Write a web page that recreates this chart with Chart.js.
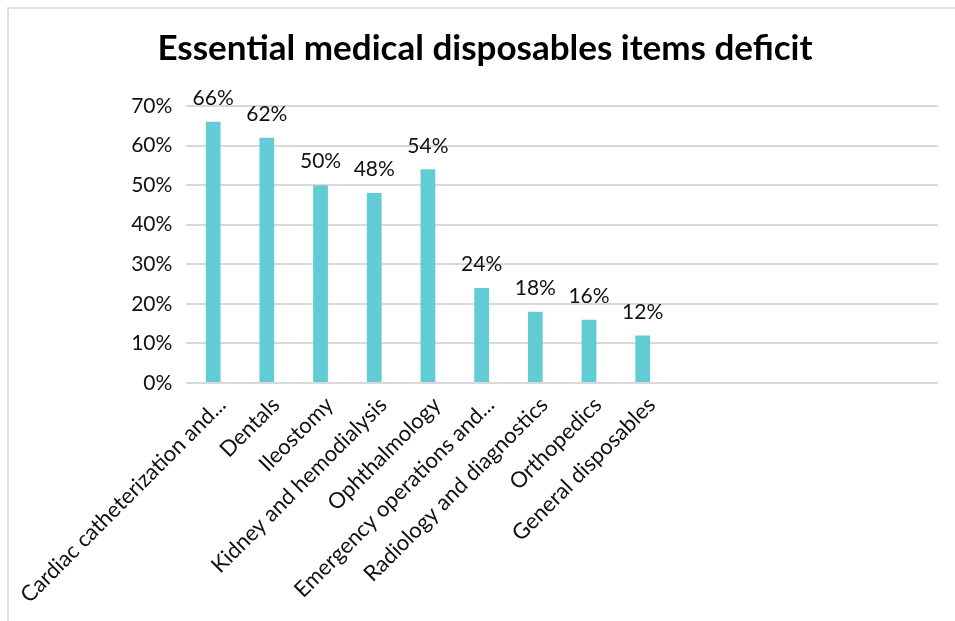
<!DOCTYPE html>
<html>
<head>
<meta charset="utf-8">
<title>Essential medical disposables items deficit</title>
<script src="https://cdn.jsdelivr.net/npm/chart.js@4"></script>
<style>
    html, body { margin: 0; padding: 0; background: #fff; overflow: hidden; }
    #frame { position: absolute; left: 7px; top: 7px; width: 970px; height: 640px; border: 2px solid #e0e0e0; }
    #wrap { position: absolute; left: 0; top: 0; width: 955px; height: 621px; }
</style>
</head>
<body>
<div id="frame"></div>
<div id="wrap"><canvas id="deficitChart"></canvas></div>
<script>
// chart data
const categories = [
    'Cardiac catheterization and...',
    'Dentals',
    'Ileostomy',
    'Kidney and hemodialysis',
    'Ophthalmology',
    'Emergency operations and...',
    'Radiology and diagnostics',
    'Orthopedics',
    'General disposables',
    '', '', '', '', ''
];
const deficitPct = [66, 62, 50, 48, 54, 24, 18, 16, 12, null, null, null, null, null];
const yTicks = [0, 10, 20, 30, 40, 50, 60, 70];

const FONT = 'Lato, "Open Sans", sans-serif';

// draws the % value above every bar
const valueLabels = {
    id: 'valueLabels',
    afterDatasetsDraw(chart) {
        const ctx = chart.ctx;
        const meta = chart.getDatasetMeta(0);
        ctx.save();
        ctx.font = '21px ' + FONT;
        ctx.fillStyle = '#111';
        ctx.textAlign = 'center';
        ctx.textBaseline = 'bottom';
        meta.data.forEach(function(bar, i) {
            const v = deficitPct[i];
            if (v === null) return;
            ctx.fillText(v + '%', bar.x, bar.y - 13);
        });
        ctx.restore();
    }
};

document.addEventListener('DOMContentLoaded', function() {
    const ctx = document.getElementById('deficitChart');
    new Chart(ctx, {
        type: 'bar',
        data: {
            labels: categories,
            datasets: [{
                data: deficitPct,
                backgroundColor: '#62ccd4',
                borderWidth: 0,
                barPercentage: 0.55,
                categoryPercentage: 0.5
            }]
        },
        options: {
            responsive: true,
            maintainAspectRatio: false,
            animation: false,
            layout: { padding: { top: 0, right: 0, bottom: 0, left: 15 } },
            plugins: {
                legend: { display: false },
                tooltip: { enabled: false },
                title: {
                    display: true,
                    text: 'Essential medical disposables items deficit',
                    color: '#000',
                    font: { family: FONT, size: 35, weight: 'bold', lineHeight: 1.2 },
                    padding: { top: 28, bottom: 36 }
                }
            },
            scales: {
                x: {
                    grid: { display: false, drawTicks: false },
                    border: { display: false },
                    ticks: {
                        color: '#111',
                        font: { family: FONT, size: 22 },
                        minRotation: 45,
                        maxRotation: 45,
                        autoSkip: false,
                        padding: 9,
                        labelOffset: 9
                    },
                    afterFit: function(scale) { scale.height = 238; }
                },
                y: {
                    min: 0,
                    max: 70,
                    afterBuildTicks: function(scale) {
                        scale.ticks = yTicks.map(v => ({ value: v }));
                    },
                    grid: { color: '#d9d9d9', lineWidth: 2, drawTicks: false },
                    border: { display: false },
                    ticks: {
                        color: '#111',
                        font: { family: FONT, size: 21 },
                        padding: 14,
                        callback: v => v + '%'
                    },
                    afterFit: function(scale) { scale.width = 170; }
                },
                // empty spacer on the right so the plot ends where the original does
                spacer: {
                    type: 'linear',
                    position: 'right',
                    grid: { display: false, drawTicks: false },
                    border: { display: false },
                    ticks: { display: false },
                    afterFit: function(scale) { scale.width = 17; }
                }
            }
        },
        plugins: [valueLabels]
    });
});
</script>
</body>
</html>
